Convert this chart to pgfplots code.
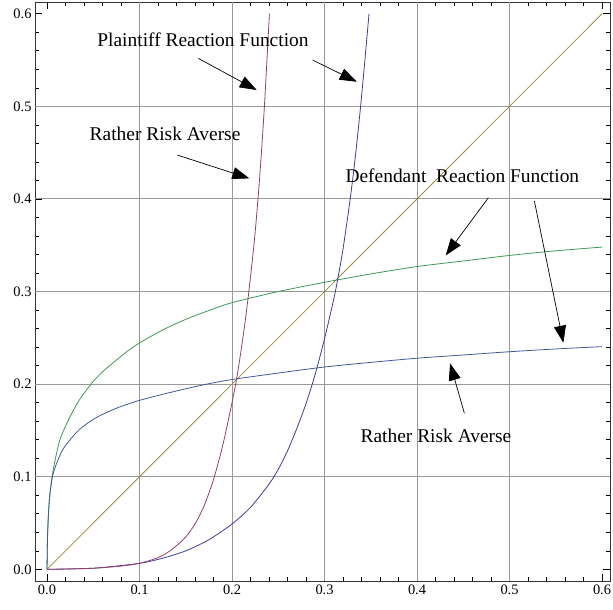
\documentclass[border=0pt]{standalone}
\usepackage{fontspec}
\setmainfont{Liberation Serif}
\usepackage{pgfplots}
\pgfplotsset{compat=1.18}
\usetikzlibrary{arrows.meta}

\definecolor{mmblue}{HTML}{3D3D99}
\definecolor{mmmag}{HTML}{993D71}
\definecolor{mmtan}{HTML}{998C3D}
\definecolor{mmgreen}{HTML}{3D9955}
\definecolor{mmblue2}{HTML}{3D5A99}

\begin{document}
\begin{tikzpicture}
  \tikzset{lbl/.style={font=\fontsize{19.5}{22}\selectfont,inner sep=0pt},
           arr/.style={black,line width=0.7bp,-{Triangle[length=17bp,width=12bp]}}}
  \begin{axis}[
    scale only axis=true,
    width=575bp, height=579bp,
    xmin=-0.013, xmax=0.6086,
    ymin=-0.0126, ymax=0.6127,
    xtick={0,0.1,...,0.6},
    ytick={0,0.1,...,0.6},
    minor tick num=4,
    tick pos=both,
    tick align=inside,
    major tick length=7bp,
    minor tick length=4bp,
    tick style={black,line width=0.6bp},
    axis line style={black!80,line width=0.8bp},
    tick label style={font=\fontsize{14.5}{16}\selectfont},
    /pgf/number format/assume math mode=true,
    /pgf/number format/fixed,
    /pgf/number format/fixed zerofill,
    /pgf/number format/precision=1,
    extra x ticks={0.1,0.2,0.3,0.4,0.5},
    extra y ticks={0.1,0.2,0.3,0.4,0.5},
    extra x tick labels={},
    extra y tick labels={},
    extra tick style={grid=major,major tick length=0pt},
    major grid style={black!40,line width=1bp},
    clip=false,
  ]
  \coordinate (bl) at (rel axis cs:0,0);
  \coordinate (tr) at (rel axis cs:1,1);

  % 45 degree line
  \addplot[mmtan,line width=0.8bp] coordinates {(0,0) (0.6,0.6)};

  % defendant reaction, less risk averse
  \addplot[mmgreen,line width=0.8bp,smooth,tension=0.45] coordinates {
    (0,0) (0.0005,0.035) (0.0015,0.06) (0.003,0.08) (0.00625,0.105)
    (0.0125,0.135) (0.0175,0.149) (0.025,0.165) (0.035,0.183) (0.05,0.203)
    (0.0625,0.2155) (0.075,0.226) (0.0875,0.236) (0.1,0.2445) (0.125,0.2585)
    (0.15,0.27) (0.175,0.2795) (0.2,0.288) (0.25,0.300) (0.3,0.310)
    (0.35,0.319) (0.4,0.327) (0.45,0.333) (0.5,0.339) (0.55,0.344)
    (0.6,0.348)};

  % defendant reaction, rather risk averse
  \addplot[mmblue2,line width=0.8bp,smooth,tension=0.45] coordinates {
    (0,0) (0.0005,0.032) (0.0015,0.058) (0.003,0.08) (0.00625,0.102)
    (0.0125,0.12) (0.0175,0.13) (0.025,0.14) (0.035,0.151) (0.05,0.162)
    (0.0625,0.1685) (0.075,0.174) (0.0875,0.1785) (0.1,0.1825) (0.125,0.189)
    (0.15,0.195) (0.175,0.2005) (0.2,0.205) (0.25,0.212) (0.3,0.2185)
    (0.35,0.2235) (0.4,0.228) (0.45,0.2315) (0.5,0.235) (0.55,0.238)
    (0.6,0.2405)};

  % plaintiff reaction, less risk averse
  \addplot[mmblue,line width=0.8bp,smooth,tension=0.45] coordinates {
    (0,0) (0.05,0.0012) (0.1,0.0065) (0.125,0.012) (0.15,0.02)
    (0.175,0.032) (0.2,0.049) (0.22,0.067) (0.24,0.092) (0.25,0.108)
    (0.26,0.128) (0.27,0.152) (0.28,0.179) (0.29,0.211) (0.3,0.249)
    (0.31,0.292) (0.314,0.312) (0.32,0.346) (0.3276,0.399) (0.333,0.443)
    (0.3387,0.497) (0.343,0.543) (0.3481,0.6)};

  % plaintiff reaction, rather risk averse
  \addplot[mmmag,line width=0.8bp,smooth,tension=0.45] coordinates {
    (0,0) (0.05,0.0012) (0.08,0.0035) (0.1,0.0065) (0.12,0.0125)
    (0.13,0.018) (0.14,0.0255) (0.15,0.035) (0.16,0.049) (0.17,0.069)
    (0.18,0.097) (0.19,0.134) (0.2,0.18) (0.205,0.206) (0.21,0.238)
    (0.215,0.274) (0.22,0.316) (0.225,0.364) (0.23,0.425) (0.235,0.50)
    (0.2404,0.6)};

  % annotations
  \node[lbl] at (axis cs:0.1686,0.5716) {Plaintiff Reaction Function};
  \node[lbl] at (axis cs:0.1276,0.4698) {Rather Risk Averse};
  \node[lbl] at (axis cs:0.449,0.425) {Defendant\ \ Reaction Function};
  \node[lbl] at (axis cs:0.4205,0.1443) {Rather Risk Averse};

  \draw[arr] (axis cs:0.1636,0.5518) -- (axis cs:0.2267,0.5176);
  \draw[arr] (axis cs:0.2872,0.55) -- (axis cs:0.3348,0.5266);
  \draw[arr] (axis cs:0.1409,0.4474) -- (axis cs:0.2187,0.4222);
  \draw[arr] (axis cs:0.4771,0.4013) -- (axis cs:0.431,0.339);
  \draw[arr] (axis cs:0.5268,0.398) -- (axis cs:0.5582,0.2447);
  \draw[arr] (axis cs:0.4512,0.1685) -- (axis cs:0.4357,0.2225);
  \end{axis}
  \pgfresetboundingbox
  \path[use as bounding box] ([xshift=-35bp,yshift=-29bp]bl) rectangle ([xshift=3bp,yshift=2bp]tr);
\end{tikzpicture}
\end{document}
